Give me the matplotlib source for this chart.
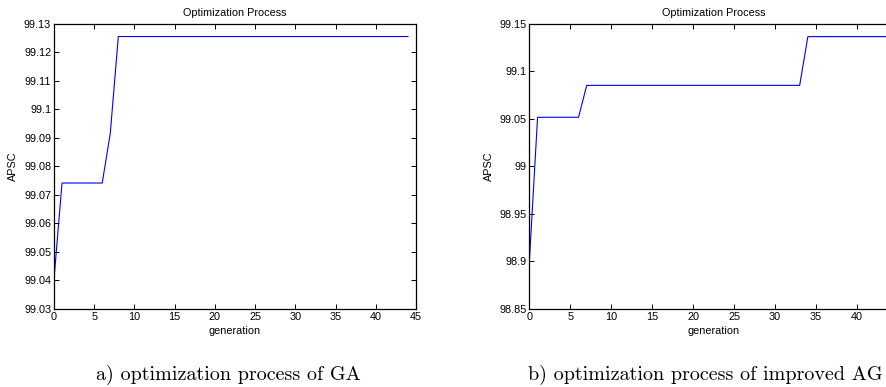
import numpy as np
import matplotlib
matplotlib.use("Agg")
import matplotlib.pyplot as plt
from matplotlib.ticker import FormatStrFormatter

# generation index (0..44) and best APSC per generation
gen = np.arange(45)

ga_apsc = [99.0402, 99.0742, 99.0742, 99.0742, 99.0742, 99.0742, 99.0742,
           99.0916] + [99.1256] * 37

iag_apsc = [98.9005] + [99.0518] * 6 + [99.0854] * 27 + [99.1367] * 11

ga_yticks = [99.03, 99.04, 99.05, 99.06, 99.07, 99.08, 99.09, 99.10, 99.11, 99.12, 99.13]
iag_yticks = [98.85, 98.90, 98.95, 99.00, 99.05, 99.10, 99.15]
xticks = [0, 5, 10, 15, 20, 25, 30, 35, 40, 45]

captions = ["a) optimization process of GA", "b) optimization process of improved AG"]

plt.rcParams['font.family'] = ['Liberation Sans', 'DejaVu Sans']

fig = plt.figure(figsize=(8.86, 3.87), dpi=100)
ax1 = fig.add_axes([0.0609, 0.2016, 0.4086, 0.7364])
ax2 = fig.add_axes([0.5975, 0.2016, 0.4160, 0.7364])

for ax, y, yt in [(ax1, ga_apsc, ga_yticks), (ax2, iag_apsc, iag_yticks)]:
    ax.plot(gen, y, color='#0000ff', lw=0.8)
    ax.set_xlim(0, 45)
    ax.set_ylim(yt[0], yt[-1])
    ax.set_xticks(xticks)
    ax.set_yticks(yt)
    ax.yaxis.set_major_formatter(FormatStrFormatter('%g'))
    ax.tick_params(direction='in', top=True, right=True, length=3.5,
                   width=0.7, labelsize=7.8, pad=2)
    for s in ax.spines.values():
        s.set_linewidth(0.9)
    ax.set_title('Optimization Process', fontsize=7.8, pad=6)
    ax.set_xlabel('generation', fontsize=7.8, labelpad=3)
    ax.set_ylabel('APSC', fontsize=7.8, labelpad=4)

# the right panel runs past the page edge, its last tick label is not shown
ax2.set_xticklabels([str(t) for t in xticks[:-1]] + [''])

fig.text(228 / 886, 1 - 375 / 387, captions[0], fontsize=14.5,
         family='cmr10', ha='center', va='center')
fig.text(705 / 886, 1 - 375 / 387, captions[1], fontsize=14.5,
         family='cmr10', ha='center', va='center')

fig.savefig('out.png', dpi=100)
